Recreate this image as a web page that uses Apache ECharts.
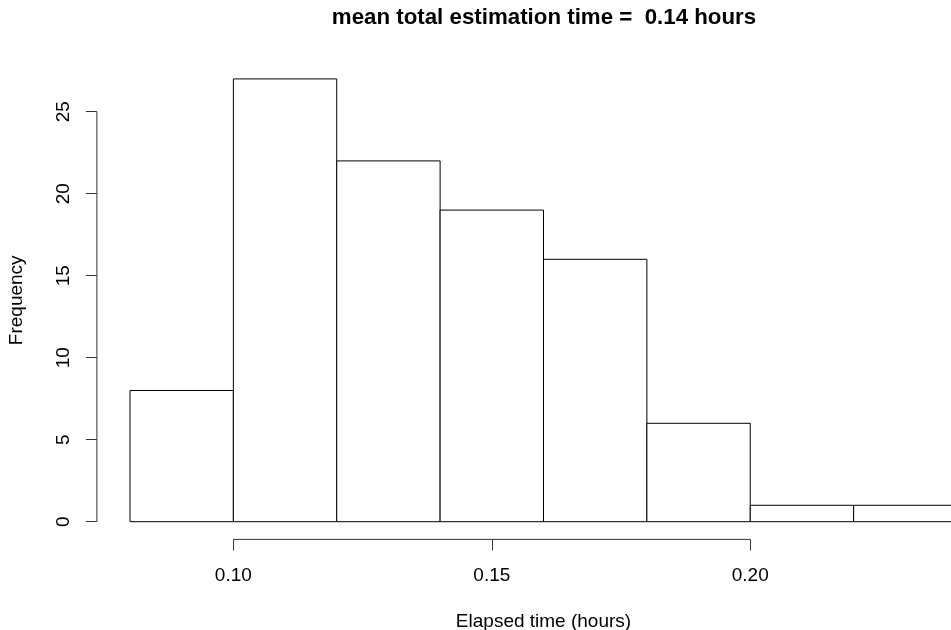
<!DOCTYPE html>
<html>
<head>
<meta charset="utf-8">
<script src="https://cdn.jsdelivr.net/npm/echarts@6/dist/echarts.min.js"></script>
<style>
html,body{margin:0;padding:0;background:#fff;}
#main{width:951px;height:630px;}
</style>
</head>
<body>
<div id="main"></div>
<script>
// ---- data ----
var binStarts = [0.08, 0.10, 0.12, 0.14, 0.16, 0.18, 0.20, 0.22];
var binEnds   = [0.10, 0.12, 0.14, 0.16, 0.18, 0.20, 0.22, 0.24];
var counts    = [8, 27, 22, 19, 16, 6, 1, 1];
var xTickValues = [0.10, 0.15, 0.20];
var yTickValues = [0, 5, 10, 15, 20, 25];
var titleText = 'mean total estimation time =  0.14 hours';
var xName = 'Elapsed time (hours)';
var yName = 'Frequency';

// R-style axis extents (data range expanded by 4%)
var xMin = 0.0736, xMax = 0.2464;
var yMin = -1.08, yMax = 28.08;

var FONT = '"Liberation Sans", Arial, Helvetica, sans-serif';
var chart = echarts.init(document.getElementById('main'), null, {renderer: 'canvas'});

var barData = counts.map(function (c, i) { return [binStarts[i], binEnds[i], c]; });

var option = {
  backgroundColor: '#ffffff',
  animation: false,
  title: {
    text: titleText,
    left: 539,
    textAlign: 'center',
    top: 1.5,
    textStyle: {fontFamily: FONT, fontWeight: 'bold', fontSize: 22.3, color: '#000'}
  },
  grid: {left: 96.9, top: 61.2, width: 893.2, height: 478.2, containLabel: false, outerBoundsMode: 'none'},
  xAxis: {
    type: 'value', min: xMin, max: xMax,
    name: xName, nameLocation: 'middle', nameGap: 73,
    nameTextStyle: {fontFamily: FONT, fontSize: 19, color: '#000'},
    axisLine: {show: false, onZero: false},
    axisTick: {show: true, customValues: xTickValues, length: 11, lineStyle: {color: '#333', width: 1}},
    axisLabel: {customValues: xTickValues, margin: 27, fontFamily: FONT, fontSize: 19, color: '#000',
      formatter: function (v) { return v.toFixed(2); }},
    splitLine: {show: false}
  },
  yAxis: {
    type: 'value', min: yMin, max: yMax,
    name: yName, nameLocation: 'middle', nameGap: 71,
    nameTextStyle: {fontFamily: FONT, fontSize: 19, color: '#000'},
    axisLine: {show: false, onZero: false},
    axisTick: {show: true, customValues: yTickValues, length: 11, lineStyle: {color: '#333', width: 1}},
    axisLabel: {customValues: yTickValues, margin: 24, rotate: 90, fontFamily: FONT, fontSize: 19, color: '#000'},
    splitLine: {show: false}
  },
  series: [
    {
      type: 'custom',
      clip: false,
      data: barData,
      renderItem: function (params, api) {
        var p0 = api.coord([api.value(0), api.value(2)]);
        var p1 = api.coord([api.value(1), 0]);
        return {
          type: 'rect',
          shape: {x: p0[0], y: p0[1], width: p1[0] - p0[0], height: p1[1] - p0[1]},
          style: {fill: '#ffffff', stroke: '#000000', lineWidth: 1}
        };
      }
    },
    {
      // R-style axis lines spanning first to last tick
      type: 'custom',
      clip: false,
      silent: true,
      data: [0],
      renderItem: function (params, api) {
        var xa = api.coord([xTickValues[0], yMin]);
        var xb = api.coord([xTickValues[xTickValues.length - 1], yMin]);
        var ya = api.coord([xMin, yTickValues[0]]);
        var yb = api.coord([xMin, yTickValues[yTickValues.length - 1]]);
        return {
          type: 'group',
          children: [
            {type: 'line', shape: {x1: xa[0], y1: xa[1], x2: xb[0], y2: xb[1]}, style: {stroke: '#333', lineWidth: 1}},
            {type: 'line', shape: {x1: ya[0], y1: ya[1], x2: yb[0], y2: yb[1]}, style: {stroke: '#333', lineWidth: 1}}
          ]
        };
      }
    }
  ]
};
chart.setOption(option);
</script>
</body>
</html>
